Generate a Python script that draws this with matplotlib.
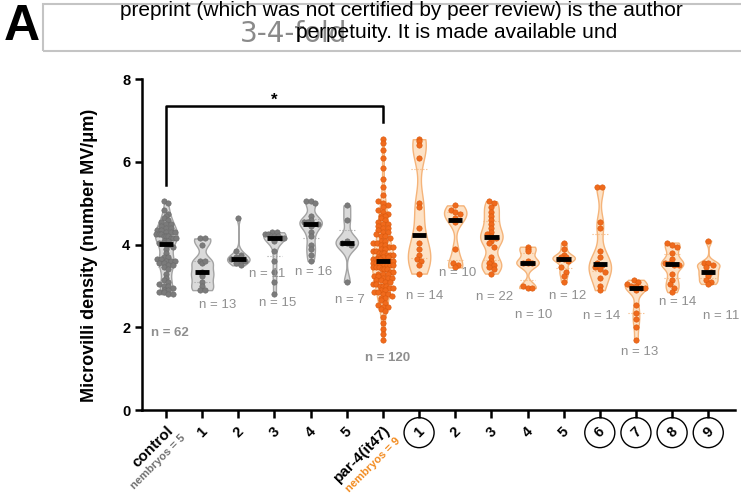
import numpy as np
import matplotlib
matplotlib.use("Agg")
import matplotlib.pyplot as plt
from matplotlib.patches import Rectangle

plt.rcParams["font.family"] = ["Liberation Sans", "DejaVu Sans"]

# values (microvilli per um), one list per group
control = [5.05, 5.0, 4.85, 4.75, 4.7, 4.65, 4.6, 4.55, 4.5, 4.5,
           4.45, 4.4, 4.4, 4.35, 4.35, 4.3, 4.3, 4.3, 4.25, 4.25,
           4.25, 4.2, 4.2, 4.2, 4.15, 4.15, 4.15, 4.1, 4.1, 4.05, 4.05,
           4.0, 3.95, 3.9, 3.8, 3.7, 3.7, 3.65, 3.65, 3.6, 3.6,
           3.6, 3.55, 3.55, 3.5, 3.5, 3.45, 3.4, 3.3, 3.2, 3.15,
           3.1, 3.05, 3.0, 3.0, 2.95, 2.9, 2.9, 2.85, 2.85, 2.8, 2.8]
ctrl_1 = [4.15, 4.15, 4.0, 3.6, 3.55, 3.6, 3.35, 3.3, 3.25, 3.1, 3.0, 2.9, 2.9]
ctrl_2 = [4.65, 3.85, 3.75, 3.7, 3.7, 3.65, 3.65, 3.6, 3.6, 3.55, 3.5]
ctrl_3 = [4.3, 4.3, 4.25, 4.25, 4.2, 4.2, 4.2, 4.15, 4.15, 4.1, 3.85, 3.6, 3.35, 3.1, 2.8]
ctrl_4 = [5.05, 5.05, 5.0, 4.7, 4.6, 4.55, 4.55, 4.5, 4.5, 4.45, 4.3, 4.2, 4.0, 3.9, 3.75, 3.6]
ctrl_5 = [4.95, 4.6, 4.1, 4.05, 4.05, 4.0, 3.1]

par4 = [6.55, 6.45, 6.3, 6.1, 5.85, 5.6, 5.4, 5.2, 5.05, 5.0, 4.95, 4.9, 4.85, 4.8,
        4.75, 4.7, 4.7, 4.65, 4.6, 4.55, 4.5, 4.5, 4.45, 4.4, 4.4, 4.35,
        4.3, 4.3, 4.25, 4.2, 4.2, 4.15, 4.1, 4.1, 4.05, 4.05, 4.0, 4.0,
        3.95, 3.95, 3.9, 3.9, 3.85, 3.85, 3.8, 3.8, 3.8, 3.75,
        3.75, 3.75, 3.7, 3.7, 3.7, 3.65, 3.65, 3.65, 3.65, 3.6,
        3.6, 3.6, 3.6, 3.6, 3.55, 3.55, 3.55, 3.55, 3.5, 3.5,
        3.5, 3.5, 3.45, 3.45, 3.45, 3.4, 3.4, 3.4, 3.35, 3.35,
        3.3, 3.3, 3.3, 3.25, 3.25, 3.2, 3.2, 3.2, 3.15, 3.15,
        3.1, 3.1, 3.05, 3.05, 3.0, 3.0, 3.0, 2.95, 2.95, 2.9,
        2.9, 2.85, 2.85, 2.8, 2.8, 2.75, 2.7, 2.7, 2.65, 2.6,
        2.55, 2.5, 2.5, 2.45, 2.4, 2.25, 2.1, 1.95, 1.85, 1.7]
par4_1 = [6.55, 6.5, 6.4, 6.1, 5.0, 4.9, 4.4, 4.05, 3.9, 3.75, 3.65, 3.6, 3.5, 3.3]
par4_2 = [4.95, 4.85, 4.8, 4.75, 4.65, 4.55, 3.9, 3.55, 3.5, 3.45]
par4_3 = [5.05, 5.0, 4.9, 4.8, 4.7, 4.6, 4.5, 4.4, 4.3, 4.25, 4.2,
          4.15, 4.1, 4.05, 3.95, 3.7, 3.6, 3.55, 3.5, 3.45, 3.4, 3.3]
par4_4 = [3.95, 3.9, 3.85, 3.6, 3.55, 3.55, 3.55, 3.0, 2.95, 2.95]
par4_5 = [4.05, 3.9, 3.75, 3.7, 3.7, 3.65, 3.65, 3.6, 3.45, 3.35, 3.25, 3.1]
par4_6 = [5.4, 5.4, 4.55, 4.4, 3.85, 3.7, 3.55, 3.5, 3.45, 3.4, 3.35, 3.2, 3.0, 2.9]
par4_7 = [3.15, 3.1, 3.05, 3.0, 3.0, 2.95, 2.95, 2.9, 2.55, 2.35, 2.2, 2.0, 1.7]
par4_8 = [4.05, 4.0, 3.95, 3.8, 3.65, 3.55, 3.55, 3.5, 3.5, 3.3, 3.15, 3.05, 2.95, 2.85]
par4_9 = [4.1, 3.55, 3.55, 3.5, 3.45, 3.35, 3.3, 3.25, 3.15, 3.1, 3.05]

groups = [control, ctrl_1, ctrl_2, ctrl_3, ctrl_4, ctrl_5,
          par4, par4_1, par4_2, par4_3, par4_4, par4_5, par4_6, par4_7, par4_8, par4_9]
tick_labels = ["control", "1", "2", "3", "4", "5",
               "par-4(it47)", "1", "2", "3", "4", "5", "6", "7", "8", "9"]
circled = [7, 12, 13, 14, 15]
n_counts = [62, 13, 11, 15, 16, 7, 120, 14, 10, 22, 10, 12, 14, 13, 14, 11]
n_pos = [(0.1, 1.87), (1.42, 2.55), (2.8, 3.3), (3.08, 2.6), (4.08, 3.35), (5.08, 2.67),
         (6.14, 1.26), (7.14, 2.76), (8.08, 3.32), (9.08, 2.73), (10.17, 2.3),
         (11.1, 2.76), (12.06, 2.28), (13.1, 1.41), (14.14, 2.62), (15.36, 2.28)]

GREY_FILL, GREY_EDGE, GREY_PT = "#dadada", "#a3a3a3", "#7b7b7b"
OR_FILL, OR_EDGE, OR_PT = "#fde2c6", "#f5b47a", "#f06a1c"


def swarm_offsets(vals, bin_h=0.1, dx=0.13, maxw=0.27):
    vals = np.asarray(vals, dtype=float)
    offs = np.zeros(len(vals))
    bins = np.round(vals / bin_h).astype(int)
    for b in np.unique(bins):
        idx = np.where(bins == b)[0]
        k = len(idx)
        step = min(dx, 2 * maxw / max(k - 1, 1))
        offs[idx] = (np.arange(k) - (k - 1) / 2) * step
    return offs


fig = plt.figure(figsize=(7.41, 5.01), dpi=100)
ax = fig.add_axes([142 / 741, 1 - 410 / 501, (735 - 142) / 741, (410 - 79.3) / 501])

positions = np.arange(len(groups))
parts = ax.violinplot(groups, positions=positions, widths=0.62,
                      showextrema=False, bw_method=0.3)
for i, body in enumerate(parts["bodies"]):
    orange = i >= 6
    body.set_facecolor(OR_FILL if orange else GREY_FILL)
    body.set_edgecolor(OR_EDGE if orange else GREY_EDGE)
    body.set_linewidth(1.0)
    body.set_alpha(1)
    body.set_zorder(1)

for i, vals in enumerate(groups):
    orange = i >= 6
    offs = swarm_offsets(vals)
    ax.scatter(positions[i] + offs, vals, s=15, zorder=3,
               color=OR_PT if orange else GREY_PT,
               edgecolor="#d9580c" if orange else "#6a6a6a", linewidth=0.4)
    q1, med, q3 = np.percentile(vals, [25, 50, 75])
    ax.hlines(med, positions[i] - 0.2, positions[i] + 0.2, color="black", lw=3.5, zorder=4)
    for q in (q1, q3):
        ax.hlines(q, positions[i] - 0.22, positions[i] + 0.22,
                  color=OR_EDGE if orange else GREY_EDGE, lw=0.8, ls=":", zorder=2)

for i, (nx, ny) in enumerate(n_pos):
    bold = n_counts[i] in (62, 120)
    ax.text(nx, ny, f"n = {n_counts[i]}", ha="center", va="center", fontsize=9.5,
            color="#8f8f8f", fontweight="bold" if bold else "normal", zorder=5)

# significance bracket control vs par-4
ax.plot([0, 0, 6, 6], [5.45, 7.36, 7.36, 6.96], color="black", lw=1.8, zorder=5)
ax.text(3, 7.5, "*", ha="center", va="center", fontsize=12, fontweight="bold")

ax.set_xlim(-0.665, 15.74)
ax.set_ylim(0, 8)
ax.set_yticks([0, 2, 4, 6, 8])
ax.set_xticks(positions)
ax.set_xticklabels([])
ax.tick_params(axis="x", length=6, width=1.8, direction="out")
ax.tick_params(axis="y", length=5, width=1.8, direction="out", labelsize=10.5)
for lab in ax.get_yticklabels():
    lab.set_fontweight("bold")
for s in ("top", "right"):
    ax.spines[s].set_visible(False)
for s in ("left", "bottom"):
    ax.spines[s].set_linewidth(1.8)
ax.set_ylabel("Microvilli density (number MV/\u03bcm)", fontsize=13, fontweight="bold")
ax.yaxis.set_label_coords(-0.075, 0.469)

# x labels
for i, lab in enumerate(tick_labels):
    if i in (0, 6):
        continue
    bb = dict(boxstyle="circle,pad=0.55", fc="none", ec="black", lw=1.0) if i in circled else None
    ax.annotate(lab, xy=(i, 0), xycoords="data", xytext=(0, -16.3), textcoords="offset points",
                ha="center", va="center", rotation=45, fontsize=10.5, fontweight="bold",
                bbox=bb, annotation_clip=False)
ax.annotate("control", xy=(0, 0), xytext=(4, -13), textcoords="offset points",
            ha="right", va="center", rotation=45, rotation_mode="anchor",
            fontsize=11, fontweight="bold", annotation_clip=False)
ax.annotate("nembryos = 5", xy=(0, 0), xytext=(13, -19), textcoords="offset points",
            ha="right", va="center", rotation=45, rotation_mode="anchor",
            fontsize=8, fontweight="bold", color="#707070", annotation_clip=False)
ax.annotate("par-4(it47)", xy=(6, 0), xytext=(4, -13), textcoords="offset points",
            ha="right", va="center", rotation=45, rotation_mode="anchor",
            fontsize=11, fontweight="bold", annotation_clip=False)
ax.annotate("nembryos = 9", xy=(6, 0), xytext=(11, -21), textcoords="offset points",
            ha="right", va="center", rotation=45, rotation_mode="anchor",
            fontsize=8, fontweight="bold", color="#f28a1e", annotation_clip=False)

# header strip
fig.patches.append(Rectangle((43 / 741, 1 - 51 / 501), 0.99, 47 / 501, transform=fig.transFigure,
                             fill=False, ec="#c4c4c4", lw=1.5))
fig.text(4 / 741, 1 - 27 / 501, "A", fontsize=36, fontweight="heavy", va="center", ha="left")
fig.text(120 / 741, 1 - 11 / 501, "preprint (which was not certified by peer review) is the author",
         fontsize=15, va="center", ha="left")
fig.text(240 / 741, 1 - 34 / 501, "3-4-fold", fontsize=20, color="#8a8a8a", va="center",
         ha="left", family="DejaVu Sans")
fig.text(296 / 741, 1 - 33 / 501, "perpetuity. It is made available und",
         fontsize=15, va="center", ha="left")

fig.savefig("out.png", dpi=100)
